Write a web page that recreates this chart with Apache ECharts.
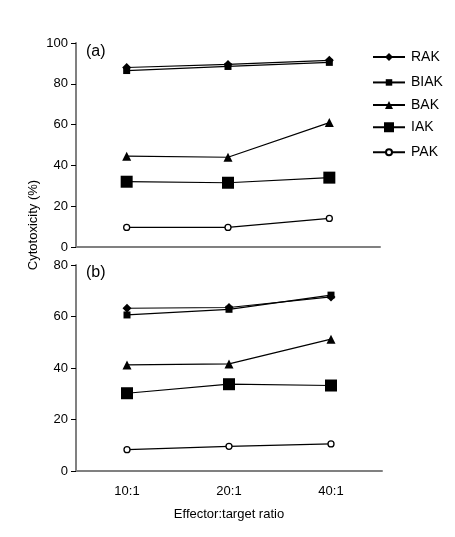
<!DOCTYPE html>
<html><head><meta charset="utf-8">
<script src="https://cdn.jsdelivr.net/npm/echarts@6/dist/echarts.min.js"></script>
<style>html,body{margin:0;padding:0;background:#fff}#c{width:455px;height:537px}</style>
</head><body><div id="c"></div>
<script>
var categories = ['10:1', '20:1', '40:1'];
var seriesNames = ['RAK', 'BIAK', 'BAK', 'IAK', 'PAK'];
// panel (a)
var aRAK = [88, 89.5, 91.5];
var aBIAK = [86.5, 88.5, 90.5];
var aBAK = [44.5, 44, 61];
var aIAK = [32, 31.5, 34];
var aPAK = [9.6, 9.6, 14];
// panel (b)
var bRAK = [63.2, 63.5, 67.6];
var bBIAK = [60.6, 62.8, 68.3];
var bBAK = [41.2, 41.6, 51.2];
var bIAK = [30.2, 33.7, 33.2];
var bPAK = [8.3, 9.6, 10.5];
var yTicksA = [0, 20, 40, 60, 80, 100];
var yTicksB = [0, 20, 40, 60, 80];

var FONT = '"Liberation Sans", Arial, sans-serif';
var styles = {
  RAK: {symbol: 'diamond', symbolSize: 9, fill: '#000', legendSize: 8},
  BIAK: {symbol: 'rect', symbolSize: 7, fill: '#000', legendSize: 6.5},
  BAK: {symbol: 'triangle', symbolSize: 9, fill: '#000', legendSize: 8},
  IAK: {symbol: 'rect', symbolSize: 12, fill: '#000', legendSize: 10},
  PAK: {symbol: 'circle', symbolSize: 6, fill: '#fff', legendSize: 6}
};
function mk(name, data, idx) {
  var s = styles[name];
  return {
    name: name, type: 'line', xAxisIndex: idx, yAxisIndex: idx, data: data,
    symbol: s.symbol, symbolSize: s.symbolSize, showAllSymbol: true,
    lineStyle: {color: '#000', width: 1.2},
    itemStyle: {color: s.fill, borderColor: '#000', borderWidth: name === 'PAK' ? 1.3 : 0},
    animation: false
  };
}
var dataA = {RAK: aRAK, BIAK: aBIAK, BAK: aBAK, IAK: aIAK, PAK: aPAK};
var dataB = {RAK: bRAK, BIAK: bBIAK, BAK: bBAK, IAK: bIAK, PAK: bPAK};
var series = [];
seriesNames.forEach(function (n) { series.push(mk(n, dataA[n], 0)); });
seriesNames.forEach(function (n) { series.push(mk(n, dataB[n], 1)); });

var legendCenters = [55, 79.5, 103, 126.5, 149];
var legends = seriesNames.map(function (n, i) {
  var h = styles[n].legendSize / 0.8;
  return {
    orient: 'vertical', left: 372, top: legendCenters[i] - h / 2, itemWidth: 32, itemHeight: h,
    padding: 0, selectedMode: false, data: [n],
    textStyle: {color: '#000', fontFamily: FONT, fontSize: 14, padding: [0, 0, 0, 1]}
  };
});

function xAx(idx, showLabels) {
  return {
    type: 'category', gridIndex: idx, data: categories, boundaryGap: true,
    axisLine: {lineStyle: {color: '#808080', width: 2}},
    axisTick: {inside: true, length: 5, lineStyle: {color: '#000', width: 1}},
    axisLabel: {show: showLabels, color: '#000', fontFamily: FONT, fontSize: 13, margin: 14},
    name: showLabels ? 'Effector:target ratio' : '',
    nameLocation: 'middle', nameGap: 37,
    nameTextStyle: {color: '#000', fontFamily: FONT, fontSize: 13}
  };
}
function yAx(idx, ticks) {
  return {
    type: 'value', gridIndex: idx, min: ticks[0], max: ticks[ticks.length - 1], interval: ticks[1] - ticks[0],
    splitLine: {show: false},
    axisLine: {show: true, lineStyle: {color: '#808080', width: 2}},
    axisTick: {show: true, length: 5, lineStyle: {color: '#000', width: 1}},
    axisLabel: {color: '#000', fontFamily: FONT, fontSize: 13, margin: 8}
  };
}
var chart = echarts.init(document.getElementById('c'), null, {renderer: 'canvas'});
chart.setOption({
  backgroundColor: '#fff',
  animation: false,
  grid: [
    {left: 76, top: 43, width: 304, height: 204},
    {left: 76, top: 265, width: 306, height: 206}
  ],
  xAxis: [xAx(0, false), xAx(1, true)],
  yAxis: [yAx(0, yTicksA), yAx(1, yTicksB)],
  legend: legends,
  graphic: [
    {type: 'text', left: 86, top: 44, style: {text: '(a)', font: '16px ' + FONT, fill: '#000'}},
    {type: 'text', left: 86, top: 265, style: {text: '(b)', font: '16px ' + FONT, fill: '#000'}},
    {type: 'text', x: 33, y: 225, rotation: Math.PI / 2, style: {text: 'Cytotoxicity (%)', font: '13px ' + FONT, fill: '#000', align: 'center', verticalAlign: 'middle'}}
  ],
  series: series
});
</script></body></html>
